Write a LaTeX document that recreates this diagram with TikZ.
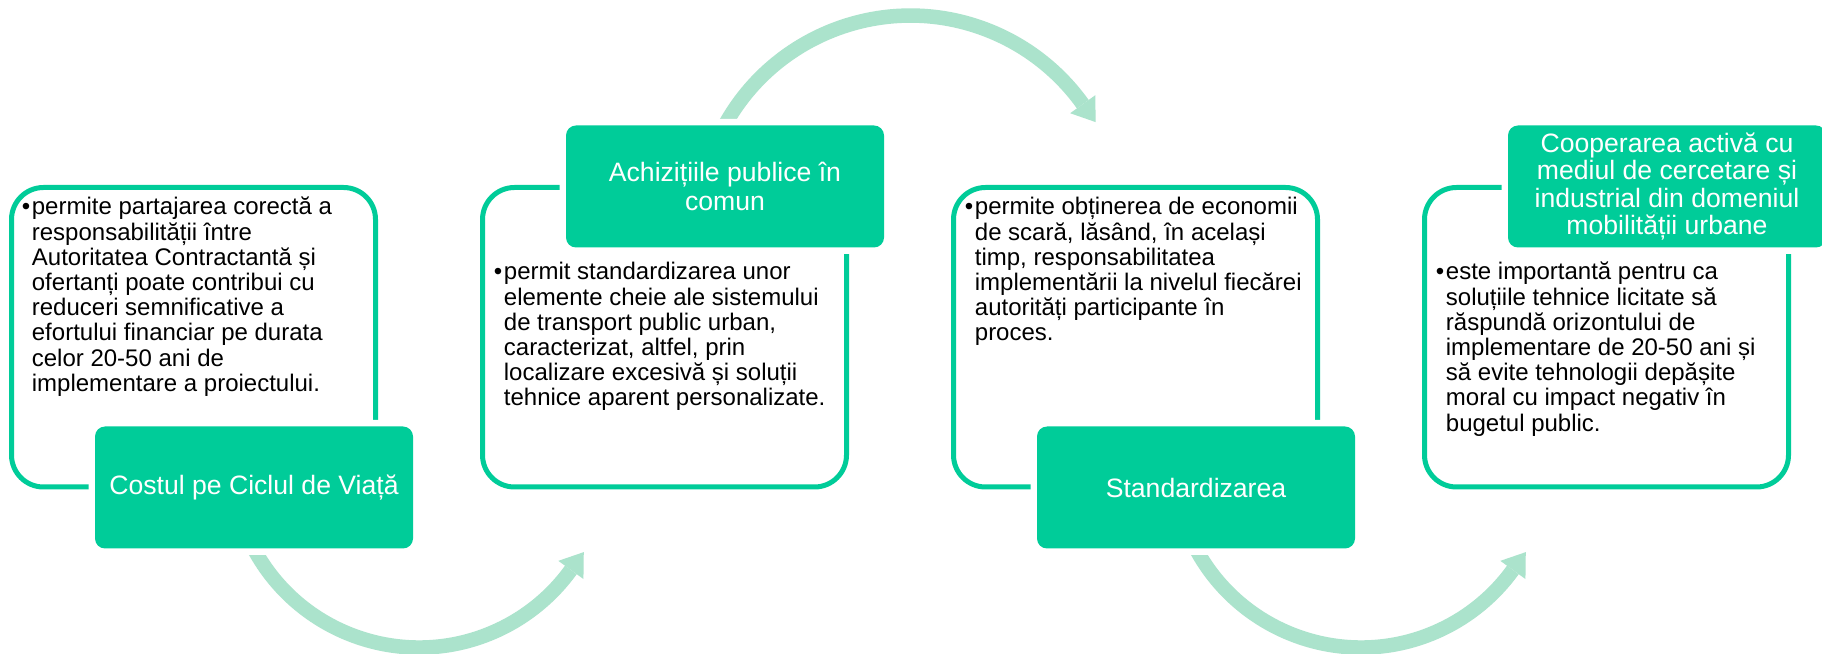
\documentclass[tikz,border=0pt]{standalone}
\usepackage{fontspec}
\setmainfont{Liberation Sans}
\usetikzlibrary{calc}
\definecolor{boxgreen}{HTML}{00CC99}
\definecolor{arrowgreen}{HTML}{ABE3CC}
\begin{document}
\begin{tikzpicture}[x=1pt,y=1pt,
  outlinebox/.style={draw=boxgreen, line width=5pt, rounded corners=32pt, minimum width=364pt, minimum height=299.5pt, inner sep=0pt, outer sep=0pt},
  titlebox/.style={fill=boxgreen, rounded corners=10pt, minimum width=318pt, minimum height=122pt, inner sep=0pt, text=white, align=center, font=\fontsize{26.6}{29.3}\selectfont, preaction={draw=white, line width=13pt}},
  bodytext/.style={anchor=base west, inner sep=0pt, outer sep=0pt, font=\fontsize{24}{25.2}\selectfont},
  arrowarc/.style={draw=arrowgreen, line width=14.5pt},
  arrowhead/.style={fill=arrowgreen},
]
\useasboundingbox (0,0) rectangle (1822,653);
\fill[white] (0,0) rectangle (1822,653);

% arc centres
\coordinate (c1) at (419,193);
\coordinate (c2) at (910.4,425.4);
\coordinate (c3) at (1361,193);

% arrows
\draw[arrowarc] ($(c1)+(205:187.5)$) arc[start angle=205, end angle=324.1, radius=187.5];
\fill[arrowhead] ($(c1)+(324.1:203)$) -- ($(c1)+(324.1:172)$) -- ($(c1)+(324.1:187.5)+(54.1:22)$) -- cycle;
\draw[arrowarc] ($(c2)+(155:212)$) arc[start angle=155, end angle=35.6, radius=212];
\fill[arrowhead] ($(c2)+(35.6:227.5)$) -- ($(c2)+(35.6:196.5)$) -- ($(c2)+(35.6:212)+(-54.4:22)$) -- cycle;
\draw[arrowarc] ($(c3)+(205:187.5)$) arc[start angle=205, end angle=324.1, radius=187.5];
\fill[arrowhead] ($(c3)+(324.1:203)$) -- ($(c3)+(324.1:172)$) -- ($(c3)+(324.1:187.5)+(54.1:22)$) -- cycle;

% outline boxes
\node[outlinebox] (o1) at (193.5,315.75) {};
\node[outlinebox] (o2) at (664.5,315.75) {};
\node[outlinebox] (o3) at (1135.5,315.75) {};
\node[outlinebox] (o4) at (1606.5,315.75) {};

% title boxes
\node[titlebox] (t1) at (254,165.5) {Costul pe Ciclul de Viață};
\node[titlebox] (t2) at (725,466.5) {Achizițiile publice în\\comun};
\node[titlebox] (t3) at (1196,165.5) {Standardizarea};
\node[titlebox, font=\fontsize{26.6}{27.2}\selectfont] (t4) at (1667,466.5) {Cooperarea activă cu\\mediul de cercetare și\\industrial din domeniul\\mobilității urbane};

% body texts
\node[bodytext] (u1) at ($(o1.north west)+(10.3,-27.5)$) {•};
\node[bodytext] (b1) at ($(o1.north west)+(20.4,-27.5)$) {\vtop{%
\hbox{permite partajarea corectă a}
\hbox{responsabilității între}
\hbox{Autoritatea Contractantă și}
\hbox{ofertanți poate contribui cu}
\hbox{reduceri semnificative a}
\hbox{efortului financiar pe durata}
\hbox{celor 20-50 ani de}
\hbox{implementare a proiectului.}}};

\node[bodytext] (u2) at ($(o2.north west)+(11.3,-92.5)$) {•};
\node[bodytext] (b2) at ($(o2.north west)+(21.4,-92.5)$) {\vtop{%
\hbox{permit standardizarea unor}
\hbox{elemente cheie ale sistemului}
\hbox{de transport public urban,}
\hbox{caracterizat, altfel, prin}
\hbox{localizare excesivă și soluții}
\hbox{tehnice aparent personalizate.}}};

\node[bodytext] (u3) at ($(o3.north west)+(11.3,-27.5)$) {•};
\node[bodytext] (b3) at ($(o3.north west)+(21.4,-27.5)$) {\vtop{%
\hbox{permite obținerea de economii}
\hbox{de scară, lăsând, în același}
\hbox{timp, responsabilitatea}
\hbox{implementării la nivelul fiecărei}
\hbox{autorități participante în}
\hbox{proces.}}};

\node[bodytext] (u4) at ($(o4.north west)+(11.3,-92.5)$) {•};
\node[bodytext] (b4) at ($(o4.north west)+(21.4,-92.5)$) {\vtop{%
\hbox{este importantă pentru ca}
\hbox{soluțiile tehnice licitate să}
\hbox{răspundă orizontului de}
\hbox{implementare de 20-50 ani și}
\hbox{să evite tehnologii depășite}
\hbox{moral cu impact negativ în}
\hbox{bugetul public.}}};
\end{tikzpicture}
\end{document}
